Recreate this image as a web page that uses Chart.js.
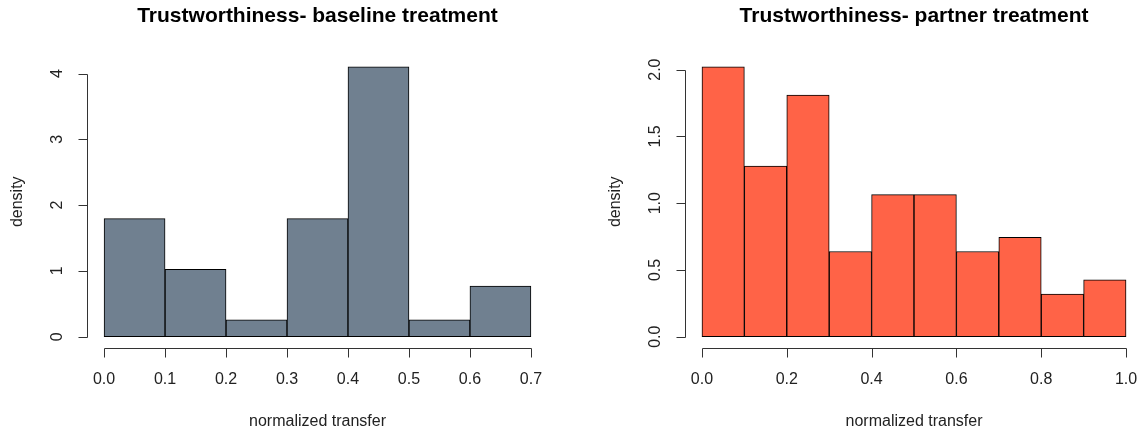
<!DOCTYPE html>
<html>
<head>
<meta charset="utf-8">
<script src="https://cdn.jsdelivr.net/npm/chart.js@4"></script>
<style>
    html, body { margin: 0; padding: 0; background: #fff; overflow: hidden; }
    #wrap { position: relative; width: 1142px; height: 434px; overflow: hidden; }
    #chartBaseline { position: absolute; left: 0; top: 0; }
    #chartPartner { position: absolute; left: 571px; top: 0; }
</style>
</head>
<body>
<div id="wrap">
    <canvas id="chartBaseline" width="571" height="434"></canvas>
    <canvas id="chartPartner" width="575" height="434"></canvas>
</div>
<script>
// baseline treatment: bin midpoints (width 0.1) and densities
const baselineBins = [0.05, 0.15, 0.25, 0.35, 0.45, 0.55, 0.65];
const baselineDensity = [1.795, 1.026, 0.256, 1.795, 4.103, 0.256, 0.769];
const baselineXTicks = [0.0, 0.1, 0.2, 0.3, 0.4, 0.5, 0.6, 0.7];
const baselineYTicks = [0, 1, 2, 3, 4];

// partner treatment
const partnerBins = [0.05, 0.15, 0.25, 0.35, 0.45, 0.55, 0.65, 0.75, 0.85, 0.95];
const partnerDensity = [2.021, 1.277, 1.809, 0.638, 1.064, 1.064, 0.638, 0.745, 0.319, 0.426];
const partnerXTicks = [0.0, 0.2, 0.4, 0.6, 0.8, 1.0];
const partnerYTicks = [0.0, 0.5, 1.0, 1.5, 2.0];

const FONT = "'Liberation Sans', Arial, sans-serif";
const INK = "#222";

// R style axes, drawn from the chart's own scales
const rAxes = {
    id: "rAxes",
    afterDraw(chart, args, opts) {
        const ctx = chart.ctx;
        const area = chart.chartArea;
        const xs = chart.scales.x, ys = chart.scales.y;
        ctx.save();
        ctx.strokeStyle = "#333";
        ctx.fillStyle = INK;
        ctx.lineWidth = 1;

        // x axis
        const ay = Math.round(area.bottom) + 0.5;
        const x0 = Math.round(xs.getPixelForValue(opts.xTicks[0])) + 0.5;
        const x1 = Math.round(xs.getPixelForValue(opts.xTicks[opts.xTicks.length - 1])) + 0.5;
        ctx.beginPath();
        ctx.moveTo(x0, ay); ctx.lineTo(x1, ay);
        opts.xTicks.forEach(t => {
            const px = Math.round(xs.getPixelForValue(t)) + 0.5;
            ctx.moveTo(px, ay); ctx.lineTo(px, ay + 9);
        });
        ctx.stroke();
        ctx.font = "16px " + FONT;
        ctx.textAlign = "center";
        ctx.textBaseline = "middle";
        opts.xTicks.forEach(t => {
            ctx.fillText(t.toFixed(1), xs.getPixelForValue(t), ay + 31);
        });
        ctx.fillText(opts.xlabel, (area.left + area.right) / 2, ay + 73);

        // y axis
        const ax = Math.round(area.left) + 0.5;
        const y0 = Math.round(ys.getPixelForValue(opts.yTicks[0])) + 0.5;
        const y1 = Math.round(ys.getPixelForValue(opts.yTicks[opts.yTicks.length - 1])) + 0.5;
        ctx.beginPath();
        ctx.moveTo(ax, y0); ctx.lineTo(ax, y1);
        opts.yTicks.forEach(t => {
            const py = Math.round(ys.getPixelForValue(t)) + 0.5;
            ctx.moveTo(ax, py); ctx.lineTo(ax - 9, py);
        });
        ctx.stroke();
        opts.yTicks.forEach(t => {
            ctx.save();
            ctx.translate(ax - 30, ys.getPixelForValue(t));
            ctx.rotate(-Math.PI / 2);
            ctx.fillText(t.toFixed(opts.yDigits), 0, 0);
            ctx.restore();
        });
        ctx.save();
        ctx.translate(ax - 70, (area.top + area.bottom) / 2);
        ctx.rotate(-Math.PI / 2);
        ctx.fillText(opts.ylabel, 0, 0);
        ctx.restore();

        // title
        ctx.font = "bold 21px " + FONT;
        ctx.fillStyle = "#000";
        ctx.fillText(opts.title, (area.left + area.right) / 2, 16);
        ctx.restore();
    }
};

function histogram(id, bins, density, color, xRange, yRange, padding, axes) {
    return new Chart(document.getElementById(id), {
        type: "bar",
        data: {
            datasets: [{
                data: bins.map((b, i) => ({ x: b, y: density[i] })),
                backgroundColor: color,
                borderColor: "#000",
                borderWidth: 1,
                borderSkipped: false,
                barPercentage: 1,
                categoryPercentage: 1
            }]
        },
        options: {
            responsive: false,
            animation: false,
            devicePixelRatio: 1,
            layout: { padding: padding },
            scales: {
                x: { type: "linear", offset: false, min: xRange[0], max: xRange[1], display: false },
                y: { min: yRange[0], max: yRange[1], display: false }
            },
            plugins: {
                legend: { display: false },
                tooltip: { enabled: false },
                rAxes: axes
            }
        },
        plugins: [rAxes]
    });
}

histogram("chartBaseline", baselineBins, baselineDensity, "#708090",
    [-0.028, 0.728], [-0.164, 4.267],
    { left: 87, right: 23, top: 56, bottom: 86.5 },
    {
        xTicks: baselineXTicks, yTicks: baselineYTicks, yDigits: 0,
        title: "Trustworthiness- baseline treatment",
        xlabel: "normalized transfer", ylabel: "density"
    });

histogram("chartPartner", partnerBins, partnerDensity, "#FF6347",
    [-0.04, 1.04], [-0.0808, 2.102],
    { left: 114, right: 3, top: 56, bottom: 86.5 },
    {
        xTicks: partnerXTicks, yTicks: partnerYTicks, yDigits: 1,
        title: "Trustworthiness- partner treatment",
        xlabel: "normalized transfer", ylabel: "density"
    });
</script>
</body>
</html>
